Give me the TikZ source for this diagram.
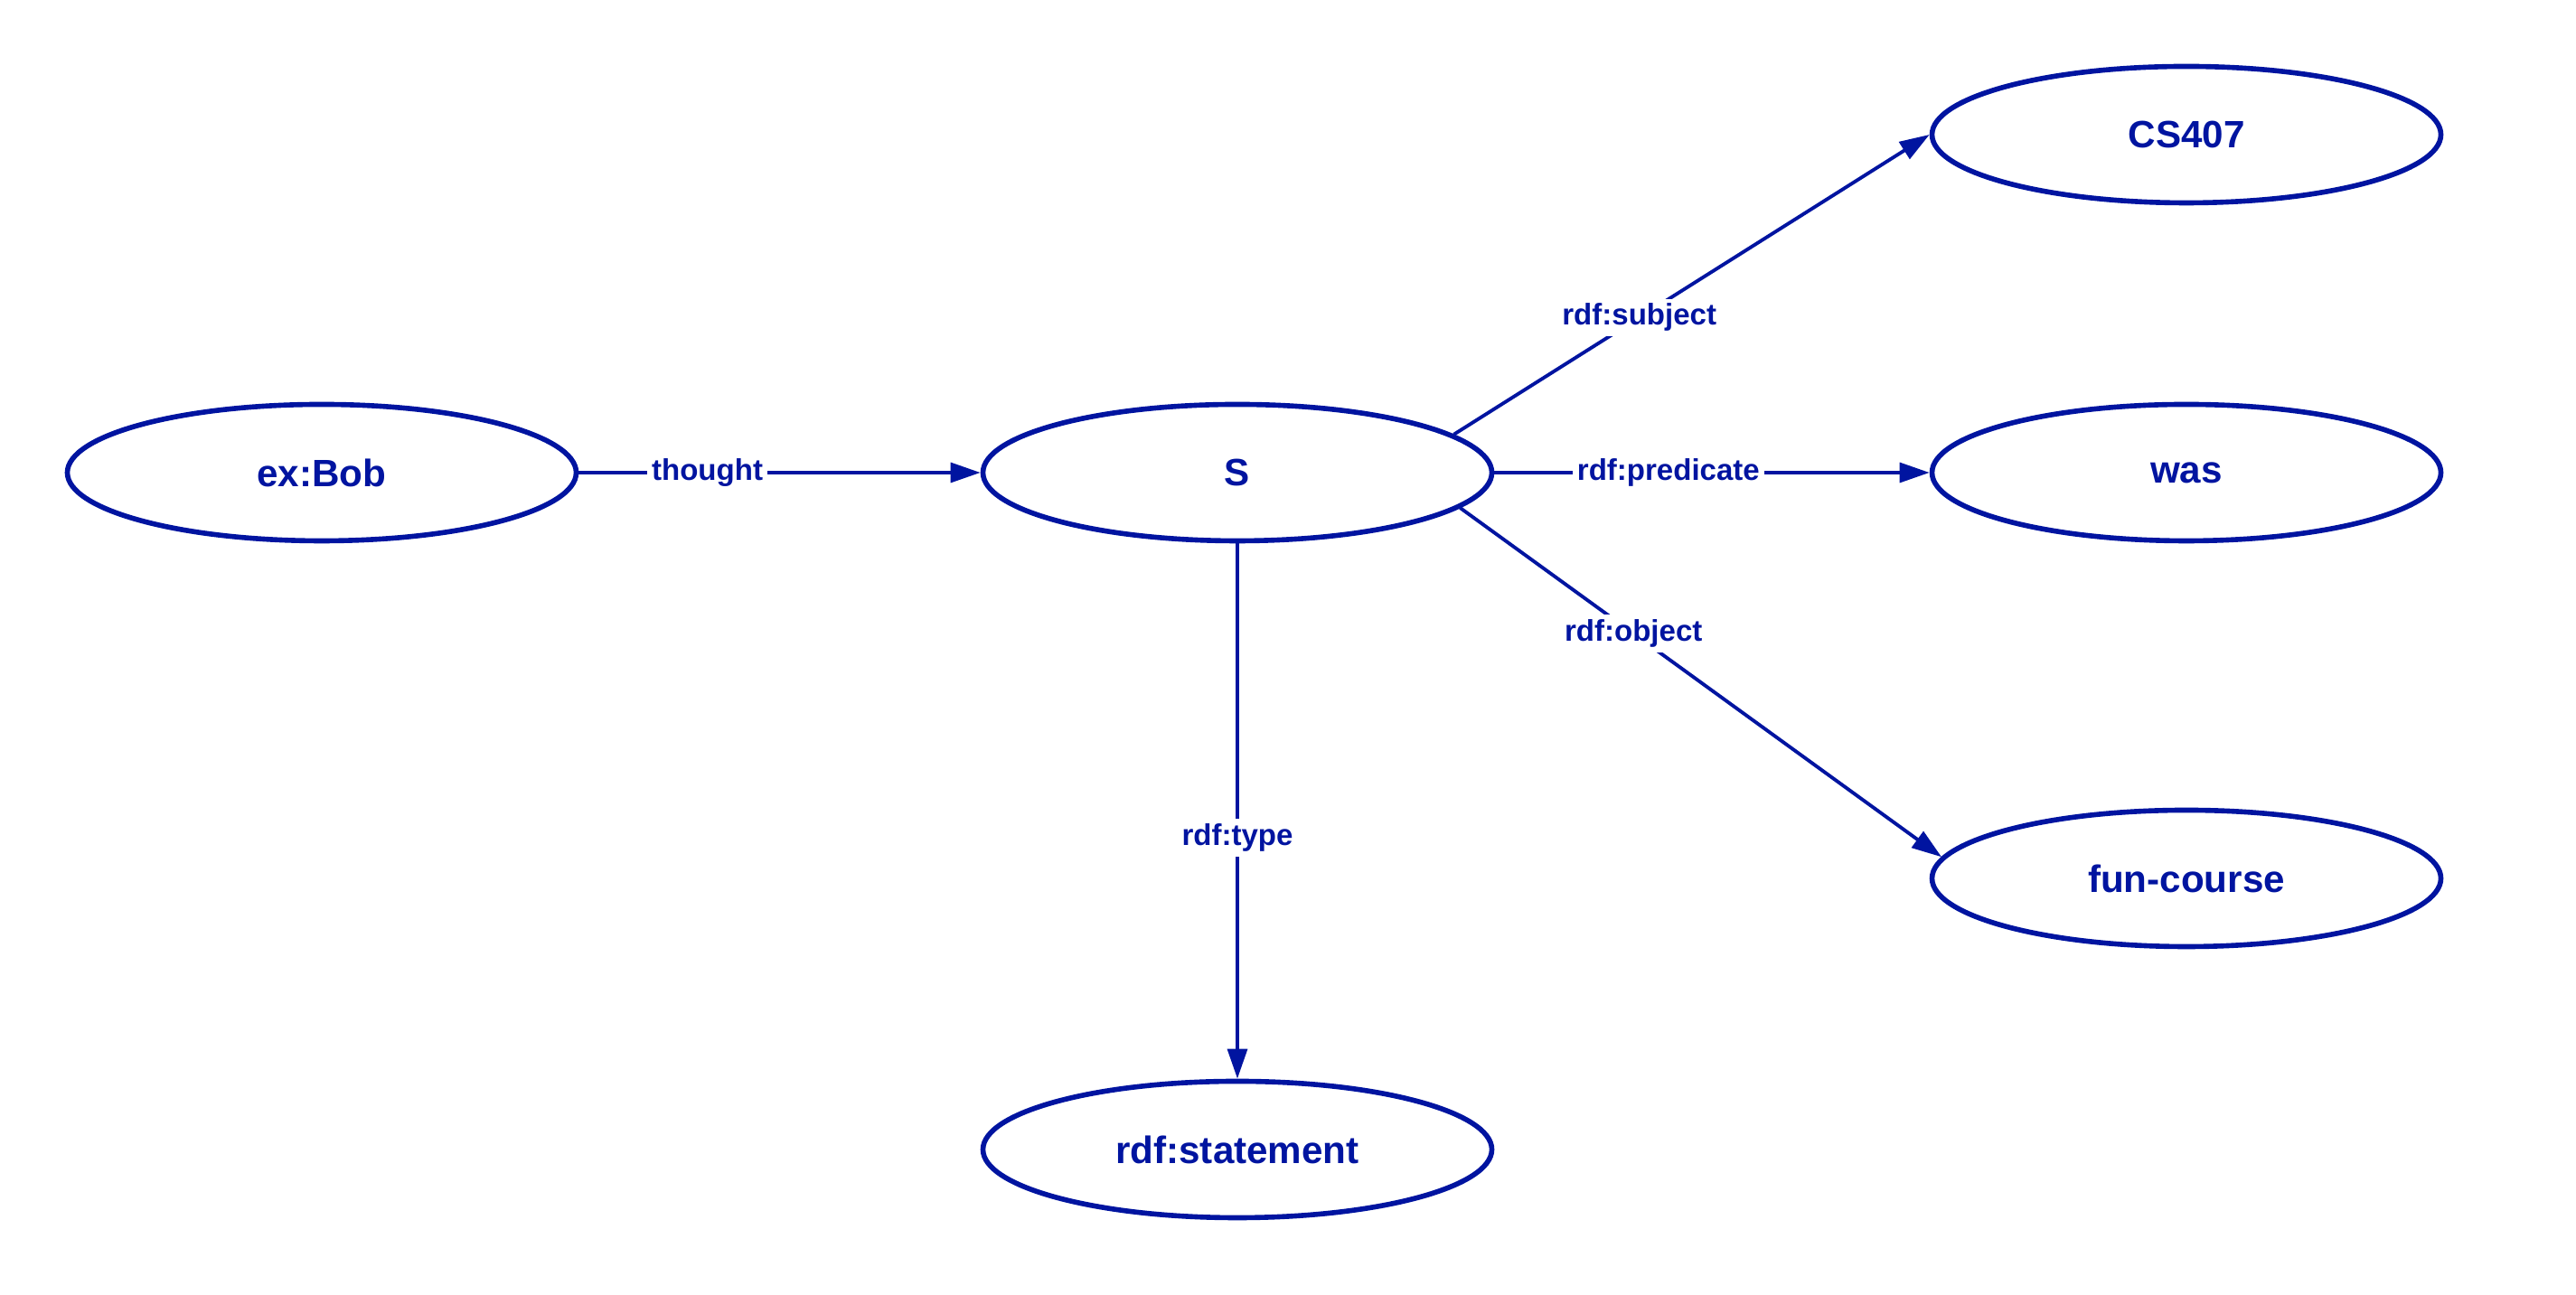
\documentclass[tikz,border=0pt]{standalone}
\usepackage{fontspec}
\setmainfont{Liberation Sans}
\usetikzlibrary{shapes.geometric,arrows.meta}
\definecolor{rdfblue}{RGB}{0,20,160}

\begin{document}
\begin{tikzpicture}[
    res/.style={ellipse, draw=rdfblue, line width=1.6pt, minimum width=5.63cm,
        minimum height=1.51cm, inner sep=0pt, text=rdfblue,
        font=\bfseries\fontsize{12}{14}\selectfont},
    prop/.style={draw=rdfblue, line width=1.1pt,
        -{Triangle[length=9.4pt,width=6.2pt]}},
    plabel/.style={fill=white, text=rdfblue, inner sep=1.5pt,
        font=\bfseries\fontsize{9.4}{11}\selectfont}
]
    % 画布大小
    \useasboundingbox (0,0) rectangle (28.5,14.33);

    % 资源节点
    \node[res] (bob) at (3.56,9.10) {ex:Bob};
    \node[res] (s) at (13.69,9.10) {S};
    \node[res] (cs) at (24.19,12.84) {CS407};
    \node[res] (was) at (24.19,9.10) {was};
    \node[res] (fun) at (24.19,4.61) {fun-course};
    \node[res] (stmt) at (13.69,1.61) {rdf:statement};

    % Bob 的想法
    \draw[prop] (bob) -- node[plabel, pos=0.32] {thought} (s);

    % 陈述的三个部分
    \draw[prop] (s.10) -- node[plabel, pos=0.39] {rdf:subject} (cs.west);
    \draw[prop] (s.east) -- node[plabel, pos=0.40] {rdf:predicate} (was.west);
    \draw[prop] (s.-9) -- node[plabel, pos=0.36] {rdf:object} (fun.175);

    % 类型
    \draw[prop] (s.south) -- node[plabel, pos=0.55] {rdf:type} (stmt.north);
\end{tikzpicture}
\end{document}
